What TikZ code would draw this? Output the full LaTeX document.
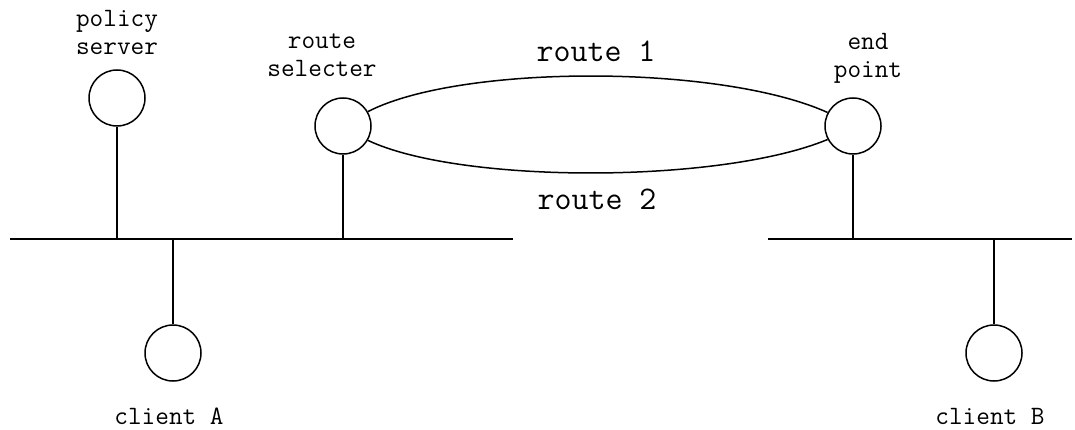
\documentclass[tikz,border=0pt]{standalone}
\usepackage{fontspec}
\begin{document}
\begin{tikzpicture}[x=1pt,y=-1pt,
  line width=1.5pt,
  host/.style={circle,draw,minimum size=56pt,inner sep=0pt},
  lbl/.style={font=\ttfamily\fontsize{26.5}{28}\selectfont,align=center,inner sep=0pt,anchor=base},
  rlbl/.style={font=\ttfamily\fontsize{33}{36}\selectfont,inner sep=0pt,anchor=base}]
\useasboundingbox (0,0) rectangle (1075,430);

% hosts
\node[host] (ps) at (117,98) {};
\node[host] (rs) at (343,126) {};
\node[host] (ep) at (853,126) {};
\node[host] (ca) at (173,353) {};
\node[host] (cb) at (994,353) {};

% network segments
\coordinate (l1) at (10,239);
\coordinate (l2) at (513,239);
\coordinate (r1) at (768,239);
\coordinate (r2) at (1072,239);
\draw (l1) -- (l2);
\draw (r1) -- (r2);

% drops to the segments
\draw (ps.south) -- (ps.south |- l1);
\draw (rs.south) -- (rs.south |- l1);
\draw (ca.north) -- (ca.north |- l1);
\draw (ep.south) -- (ep.south |- r1);
\draw (cb.north) -- (cb.north |- r1);

% the two routes
\draw (rs.30) .. controls (460,64) and (720,64) .. (ep.152);
\draw (rs.-30) .. controls (460,184) and (720,184) .. (ep.208);

% labels (anchored at the baseline of the last line)
\node[lbl] (tps) at (117,55) {policy\\server};
\node[lbl] (trs) at (322,77) {route\\selecter};
\node[lbl] (tep) at (868,78) {end\\point};
\node[lbl] (tca) at (169,424) {client A};
\node[lbl] (tcb) at (990,424) {client B};
\node[rlbl] (r1t) at (596,62) {route 1};
\node[rlbl] (r2t) at (597,210) {route 2};
\end{tikzpicture}
\end{document}
